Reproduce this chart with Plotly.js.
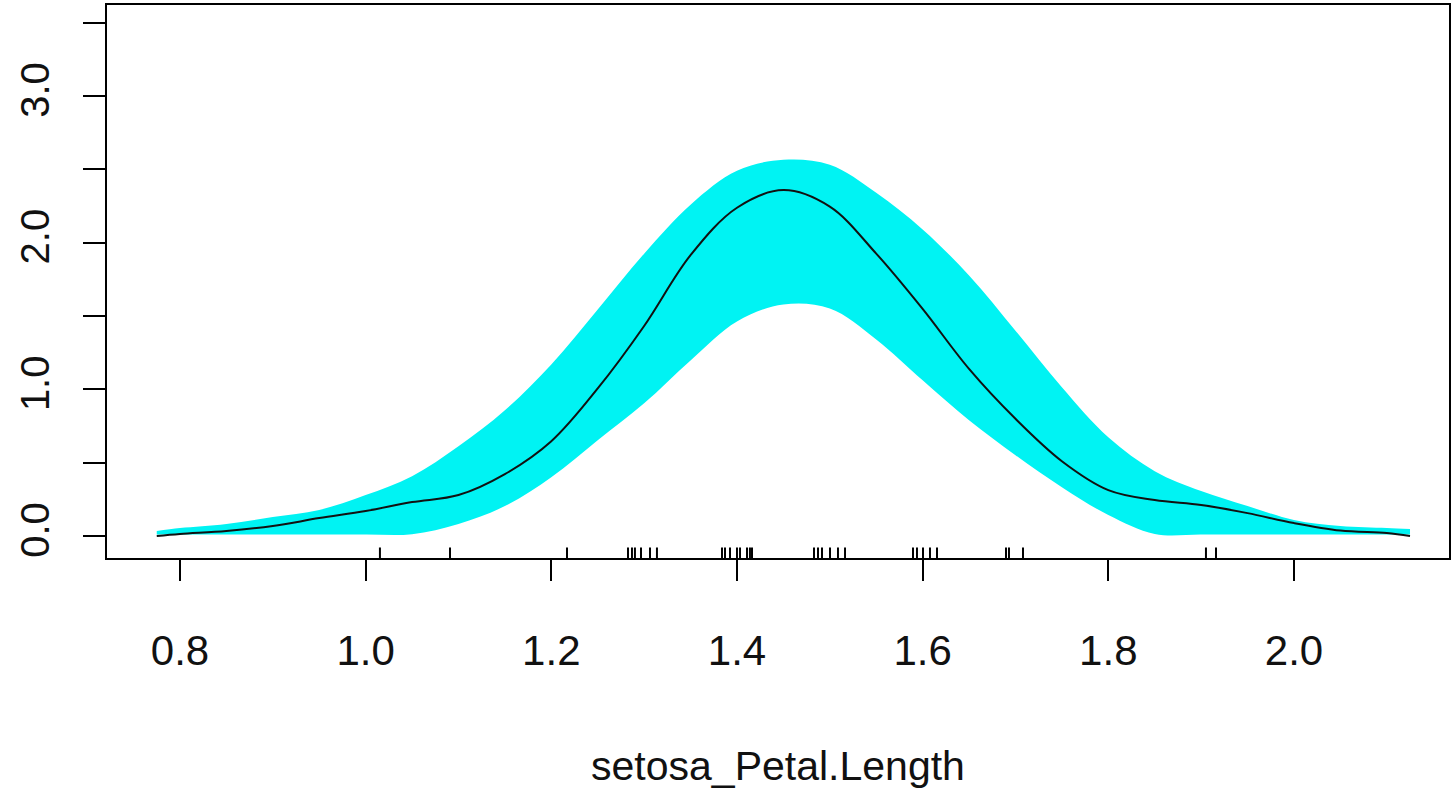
<!DOCTYPE html>
<html>
<head>
<meta charset="utf-8">
<script src="https://cdn.plot.ly/plotly-3.0.1.min.js"></script>
<style>html,body{margin:0;padding:0;background:#fff;}#chart{width:1456px;height:792px;}</style>
</head>
<body>
<div id="chart"></div>
<script>
// Grid of x values (setosa petal length)
const xGrid = [0.775,0.80,0.85,0.90,0.95,1.00,1.05,1.10,1.15,1.20,1.25,1.30,1.35,1.40,1.45,1.50,1.55,1.60,1.65,1.70,1.75,1.80,1.85,1.90,1.95,2.00,2.05,2.10,2.125];
// Estimated density (black line)
const densityMid = [0.000,0.014,0.034,0.068,0.122,0.170,0.231,0.279,0.422,0.646,1.006,1.432,1.915,2.238,2.358,2.245,1.925,1.548,1.139,0.799,0.510,0.313,0.245,0.211,0.156,0.088,0.037,0.020,0.000];
// Upper bound of the cyan band
const bandUpper = [0.034,0.054,0.082,0.129,0.177,0.279,0.408,0.612,0.857,1.170,1.544,1.925,2.259,2.490,2.565,2.531,2.340,2.090,1.776,1.400,1.014,0.673,0.442,0.306,0.204,0.109,0.068,0.054,0.048];
// Lower bound of the cyan band
const bandLower = [0.010,0.010,0.010,0.010,0.010,0.010,0.012,0.082,0.204,0.401,0.653,0.905,1.197,1.463,1.578,1.551,1.340,1.061,0.789,0.551,0.333,0.143,0.014,0.010,0.010,0.010,0.010,0.010,0.010];
// Rug (jittered observations)
const rugValues = [1.0154,1.0909,1.2169,1.2826,1.2869,1.2901,1.2966,1.3063,1.3138,1.3839,1.3871,1.3925,1.4000,1.4033,1.4108,1.4140,1.4162,1.4830,1.4873,1.4916,1.5002,1.5088,1.5164,1.5896,1.5939,1.6004,1.6079,1.6155,1.6898,1.6930,1.7081,1.9052,1.9160];
// Tick labels
const xTickVals = [0.8,1.0,1.2,1.4,1.6,1.8,2.0];
const xTickText = ['0.8','1.0','1.2','1.4','1.6','1.8','2.0'];
const yTickVals = [0,0.5,1,1.5,2,2.5,3,3.5];
const yTickText = ['0.0','','1.0','','2.0','','3.0',''];
const xTitle = 'setosa_Petal.Length';

const cyan = '#00F3F3';
const font = '"Liberation Sans", Arial, sans-serif';
const traces = [
  {x: xGrid, y: bandLower, type: 'scatter', mode: 'lines', line: {width: 0, color: cyan, shape: 'spline'}, hoverinfo: 'skip', showlegend: false},
  {x: xGrid, y: bandUpper, type: 'scatter', mode: 'lines', fill: 'tonexty', fillcolor: cyan, line: {width: 0, color: cyan, shape: 'spline'}, showlegend: false},
  {x: xGrid, y: densityMid, type: 'scatter', mode: 'lines', line: {width: 2, color: '#111', shape: 'spline'}, showlegend: false}
];

const shapes = rugValues.map(v => ({type: 'line', xref: 'x', yref: 'y domain', x0: v, x1: v, y0: 0, y1: 0.019, line: {color: '#000', width: 2}}));

const layout = {
  width: 1456, height: 792,
  margin: {l: 107, r: 7, t: 5, b: 234},
  paper_bgcolor: '#fff', plot_bgcolor: '#fff',
  showlegend: false,
  shapes: shapes,
  xaxis: {
    range: [0.7214, 2.167], showgrid: false, zeroline: false,
    showline: true, mirror: true, linecolor: '#000', linewidth: 2,
    ticks: 'outside', ticklen: 21, tickwidth: 2, tickcolor: '#000',
    tickvals: xTickVals, ticktext: xTickText, ticklabelstandoff: 34,
    tickfont: {family: font, size: 42, color: '#111'},
    title: {text: xTitle, standoff: 78, font: {family: font, size: 41, color: '#111'}},
    automargin: false
  },
  yaxis: {
    range: [-0.15, 3.62], showgrid: false, zeroline: false,
    showline: true, mirror: true, linecolor: '#000', linewidth: 2,
    ticks: 'outside', ticklen: 22, tickwidth: 2, tickcolor: '#000',
    tickvals: yTickVals, ticktext: yTickText, tickangle: -90, ticklabelstandoff: 18,
    tickfont: {family: font, size: 40, color: '#111'},
    automargin: false
  }
};

Plotly.newPlot('chart', traces, layout, {staticPlot: true, displayModeBar: false});
</script>
</body>
</html>
